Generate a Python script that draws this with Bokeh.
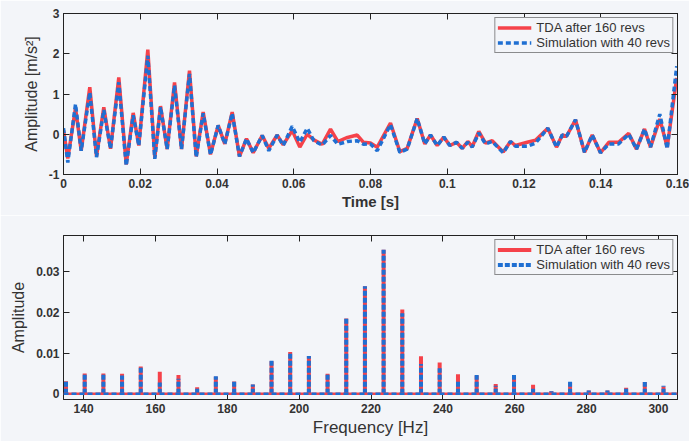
from bokeh.plotting import figure
from bokeh.layouts import column
from bokeh.models import LinearAxis, FixedTicker, CustomJSTickFormatter, Span, Range1d
from bokeh.embed import file_html
from bokeh.resources import INLINE

# ---- time domain (extrema) ----
time_ms = [0.0, 1.12, 3.13, 4.61, 6.85, 8.60, 10.50, 12.25, 14.41, 16.34, 18.16, 19.62,
           21.97, 23.79, 25.28, 27.02, 28.93, 30.75, 32.83, 34.58, 36.40, 38.31, 40.31,
           42.03, 43.96, 45.86, 47.69, 49.43, 51.78, 53.50, 55.69, 57.25, 59.60, 61.58,
           63.51, 65.23, 67.41, 69.58, 71.48, 74.01, 76.54, 78.18, 80.00, 81.75, 85.21,
           87.64, 89.56, 92.17, 94.15, 95.64, 97.38, 99.10, 100.67, 102.41, 103.90,
           105.36, 106.50, 108.22, 109.97, 111.71, 114.58, 116.48, 117.79, 120.84,
           123.00, 126.21, 128.47, 129.96, 131.08, 133.42, 135.77, 137.78, 139.94,
           142.10, 144.63, 147.31, 149.32, 151.40, 152.97, 155.39, 157.32, 159.8]
tda_time = [0.10, -0.60, 0.65, -0.41, 1.17, -0.55, 0.67, -0.36, 1.41, -0.75, 0.53, -0.28,
            2.10, -0.58, 0.70, -0.37, 1.29, -0.37, 1.58, -0.55, 0.55, -0.50, 0.22,
            -0.24, 0.55, -0.55, -0.11, -0.46, -0.03, -0.35, -0.02, -0.26, 0.09, -0.32,
            0.00, -0.14, -0.25, 0.13, -0.18, -0.08, -0.02, -0.20, -0.22, -0.32, 0.28,
            -0.43, -0.35, 0.39, -0.24, -0.02, -0.28, -0.07, -0.28, -0.20, -0.35,
            -0.18, -0.31, 0.07, -0.22, -0.16, -0.44, -0.18, -0.28, -0.20,
            -0.15, 0.15, -0.32, -0.02, -0.05, 0.36, -0.45, -0.02, -0.46,
            -0.20, -0.20, 0.02, -0.37, 0.13, -0.32, 0.38, -0.32, 1.40]
sim_time = [0.15, -0.70, 0.75, -0.41, 1.04, -0.57, 0.60, -0.36, 1.29, -0.78, 0.47, -0.28,
            1.95, -0.61, 0.68, -0.37, 1.21, -0.37, 1.50, -0.57, 0.52, -0.51, 0.22,
            -0.24, 0.52, -0.55, -0.11, -0.46, -0.03, -0.41, -0.02, -0.28, 0.20, -0.20,
            0.15, -0.16, -0.27, -0.03, -0.25, -0.18, -0.16, -0.25, -0.24, -0.41, 0.24,
            -0.45, -0.37, 0.39, -0.24, -0.02, -0.28, -0.07, -0.28, -0.20, -0.35,
            -0.20, -0.32, 0.03, -0.24, -0.18, -0.46, -0.18, -0.30, -0.30,
            -0.22, 0.15, -0.32, -0.02, -0.05, 0.36, -0.45, -0.02, -0.46,
            -0.24, -0.24, 0.00, -0.37, 0.13, -0.32, 0.50, -0.36, 1.69]

# ---- spectrum ----
freq_hz = [135.1, 140.3, 145.5, 150.7, 155.9, 161.2, 166.4, 171.6, 176.8, 181.9, 187.1,
           192.3, 197.5, 202.7, 207.9, 213.1, 218.3, 223.5, 228.7, 233.9, 239.1, 244.2,
           249.4, 254.7, 259.8, 265.1, 270.2, 275.4, 280.6, 285.8, 291.0, 296.2, 301.4]
tda_spec = [0.0031, 0.0050, 0.0050, 0.0049, 0.0067, 0.0054, 0.0046, 0.0016, 0.0042, 0.0030,
            0.0023, 0.0080, 0.0103, 0.0093, 0.0049, 0.0185, 0.0264, 0.0354, 0.0207, 0.0092,
            0.0077, 0.0048, 0.0045, 0.0024, 0.0045, 0.0022, 0.0006, 0.0028, 0.0008, 0.0008,
            0.0015, 0.0029, 0.0018]
sim_spec = [0.0030, 0.0047, 0.0049, 0.0045, 0.0067, 0.0028, 0.0037, 0.0016, 0.0043, 0.0030,
            0.0023, 0.0081, 0.0103, 0.0093, 0.0049, 0.0185, 0.0264, 0.0354, 0.0198, 0.0073,
            0.0063, 0.0034, 0.0046, 0.0020, 0.0046, 0.0016, 0.0006, 0.0033, 0.0008, 0.0008,
            0.0015, 0.0029, 0.0020]

time_ticks = [0, 0.02, 0.04, 0.06, 0.08, 0.1, 0.12, 0.14, 0.16]
amp_ticks = [-1, 0, 1, 2, 3]
freq_ticks = [140, 160, 180, 200, 220, 240, 260, 280, 300]
spec_ticks = [0, 0.01, 0.02, 0.03]

RED = "#f5424a"
BLUE = "#1f6fd2"
BG = "#f3f5f9"
TXT = "#333333"
FONT = "Liberation Sans"

fmt_code = "return Number(tick.toFixed(3)).toString();"


def style(p, xt, yt):
    p.background_fill_color = BG
    p.border_fill_color = BG
    p.outline_line_color = "#222222"
    p.outline_line_width = 1
    p.xgrid.visible = False
    p.ygrid.visible = False
    xb = p.below[0]
    yl = p.left[0]
    for ax, ticks in ((xb, xt), (yl, yt)):
        ax.ticker = FixedTicker(ticks=ticks)
        ax.formatter = CustomJSTickFormatter(code=fmt_code)
        ax.major_tick_in = 6
        ax.major_tick_out = 0
        ax.minor_tick_line_color = None
        ax.axis_line_color = "#222222"
        ax.major_tick_line_color = "#222222"
        ax.major_label_text_font = FONT
        ax.major_label_text_font_style = "bold"
        ax.major_label_text_font_size = "12px"
        ax.major_label_text_color = TXT
        ax.axis_label_text_font = FONT
        ax.axis_label_text_color = TXT
        ax.axis_label_text_font_style = "normal"
        ax.major_label_standoff = 4
    for loc, ticks in (("above", xt), ("right", yt)):
        ax = LinearAxis(ticker=FixedTicker(ticks=ticks),
                        formatter=CustomJSTickFormatter(code="return '';"))
        ax.major_tick_in = 6
        ax.major_tick_out = 0
        ax.minor_tick_line_color = None
        ax.major_label_text_font_size = "1px"
        ax.major_label_standoff = 0
        ax.axis_line_color = "#222222"
        ax.major_tick_line_color = "#222222"
        p.add_layout(ax, loc)
    return xb, yl


def style_legend(p, margin):
    lg = p.legend[0]
    lg.location = "top_right"
    lg.margin = margin
    lg.padding = 2
    lg.spacing = 0
    lg.label_height = 13
    lg.glyph_height = 13
    lg.glyph_width = 34
    lg.label_text_font = FONT
    lg.label_text_font_size = "13px"
    lg.label_text_color = TXT
    lg.border_line_color = "#222222"
    lg.border_line_width = 1
    lg.background_fill_color = BG
    lg.background_fill_alpha = 1


# ---- top: time signal ----
p1 = figure(width=689, height=215, output_backend="svg", toolbar_location=None,
            x_range=Range1d(0, 0.16), y_range=Range1d(-1, 3),
            min_border_left=63, min_border_right=12, min_border_top=13, min_border_bottom=41)
t_s = [v / 1000 for v in time_ms]
p1.line(t_s, tda_time, color=RED, line_width=3.5, legend_label="TDA after 160 revs")
p1.line(t_s, sim_time, color=BLUE, line_width=3.5, line_dash="5 3",
        legend_label="Simulation with 40 revs")
xb1, yl1 = style(p1, time_ticks, amp_ticks)
xb1.axis_label = "Time [s]"
xb1.axis_label_text_font_style = "bold"
xb1.axis_label_text_font_size = "15px"
xb1.axis_label_standoff = 2
yl1.axis_label = "Amplitude [m/s²]"
yl1.axis_label_text_font_size = "16px"
yl1.axis_label_standoff = 6
style_legend(p1, 4)

# ---- bottom: spectrum ----
p2 = figure(width=689, height=226, output_backend="svg", toolbar_location=None,
            x_range=Range1d(134.4, 305.3), y_range=Range1d(-0.0014, 0.0389),
            min_border_left=63, min_border_right=12, min_border_top=20, min_border_bottom=42)
zeros = [0] * len(freq_hz)
p2.add_layout(Span(location=0, dimension="width", line_color=RED, line_width=2.5))
p2.add_layout(Span(location=0, dimension="width", line_color=BLUE, line_width=2.5,
                   line_dash="5 3"))
p2.segment(freq_hz, zeros, freq_hz, tda_spec, line_color=RED, line_width=4,
           legend_label="TDA after 160 revs")
p2.segment(freq_hz, zeros, freq_hz, sim_spec, line_color=BLUE, line_width=4,
           line_dash="5 2", legend_label="Simulation with 40 revs")
xb2, yl2 = style(p2, freq_ticks, spec_ticks)
xb2.axis_label = "Frequency [Hz]"
xb2.axis_label_text_font_size = "17px"
xb2.axis_label_standoff = 2
yl2.axis_label = "Amplitude"
yl2.axis_label_text_font_size = "16px"
yl2.axis_label_standoff = 6
style_legend(p2, 4)

layout = column(p1, p2, spacing=0)
open("out.html", "w").write(file_html(layout, INLINE))
